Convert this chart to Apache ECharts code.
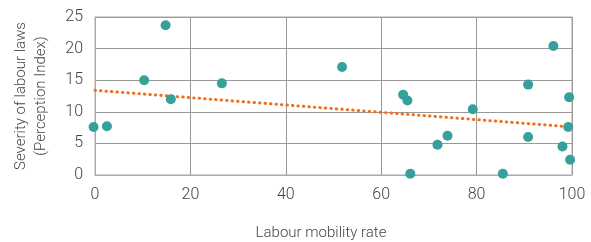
<!DOCTYPE html>
<html>
<head>
<meta charset="utf-8">
<script src="https://cdn.jsdelivr.net/npm/echarts@6/dist/echarts.min.js"></script>
<style>
html, body { margin: 0; padding: 0; background: #fff; }
#main { width: 591px; height: 242px; }
</style>
</head>
<body>
<div id="main"></div>
<script>
// mobility rate (x) and labour law severity (y)
let mobility = [-0.3, 2.5, 10.3, 14.8, 15.9, 26.6, 51.8, 64.6, 65.5, 66.1, 71.8, 73.9, 79.2, 85.5, 90.8, 90.8, 96.1, 98.0, 99.2, 99.4, 99.6];
let severity = [7.6, 7.7, 15.0, 23.7, 12.0, 14.5, 17.1, 12.7, 11.8, 0.2, 4.8, 6.2, 10.4, 0.2, 14.3, 6.0, 20.4, 4.5, 7.6, 12.3, 2.4];
// trend line end points
let trendX = [0, 100];
let trendY = [13.4, 7.6];

let points = mobility.map((x, i) => [x, severity[i]]);
let trend = trendX.map((x, i) => [x, trendY[i]]);

let chartDom = document.getElementById('main');
let myChart = echarts.init(chartDom, null, { renderer: 'canvas' });

let labelFont = {
  color: '#444',
  fontFamily: 'Roboto',
  fontWeight: 300,
  fontSize: 16
};

let option = {
  animation: false,
  grid: {
    left: 95, right: 19, top: 17, bottom: 67,
    outerBoundsMode: 'none', containLabel: false,
    show: true, borderColor: '#aaa', borderWidth: 1
  },
  xAxis: {
    type: 'value',
    min: 0,
    max: 100,
    interval: 20,
    name: 'Labour mobility rate',
    nameLocation: 'middle',
    nameGap: 51,
    nameTextStyle: { color: '#444', fontFamily: 'Roboto', fontWeight: 300, fontSize: 15, padding: [0, 25, 0, 0] },
    axisLine: { show: true, lineStyle: { color: '#aaa' } },
    axisTick: { show: false },
    splitLine: { show: true, lineStyle: { color: '#999' } },
    axisLabel: Object.assign({ margin: 12 }, labelFont)
  },
  yAxis: {
    type: 'value',
    min: 0,
    max: 25,
    interval: 5,
    name: 'Severity of labour laws\n(Perception Index)',
    nameLocation: 'middle',
    nameGap: 44,
    nameTextStyle: { color: '#444', fontFamily: 'Roboto', fontWeight: 300, fontSize: 15, lineHeight: 20 },
    axisLine: { show: true, lineStyle: { color: '#aaa' } },
    axisTick: { show: false },
    splitLine: { show: true, lineStyle: { color: '#999' } },
    axisLabel: Object.assign({ margin: 12 }, labelFont)
  },
  series: [
    {
      type: 'line',
      data: trend,
      symbol: 'none',
      lineStyle: { color: '#f07020', width: 3, type: [0.5, 5], cap: 'round' },
      z: 2
    },
    {
      type: 'scatter',
      data: points,
      clip: false,
      symbolSize: 10,
      itemStyle: { color: '#36a09b', opacity: 1 },
      z: 3
    }
  ]
};
myChart.setOption(option);
</script>
</body>
</html>
